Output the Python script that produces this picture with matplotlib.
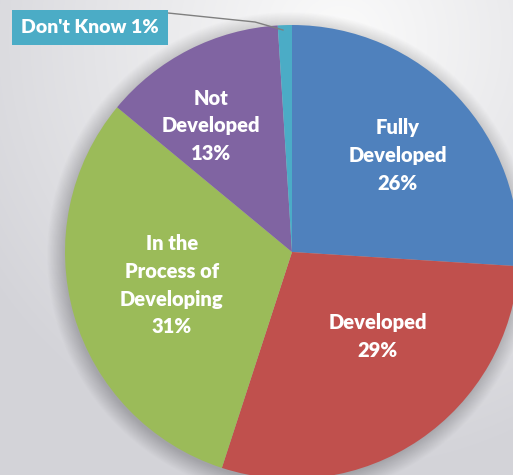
import numpy as np
import matplotlib
matplotlib.use("Agg")
import matplotlib.pyplot as plt
from matplotlib.patches import Rectangle, Circle

labels = ["Fully\nDeveloped\n26%", "Developed\n29%", "In the\nProcess of\nDeveloping\n31%",
          "Not\nDeveloped\n13%", "Don't Know 1%"]
values = [26, 29, 31, 13, 1]
colors = ["#4F81BD", "#C0504D", "#9BBB59", "#8064A2", "#4BACC6"]
# label placement: (angle in degrees, radius fraction)
label_pos = [(42.5, 0.63), (-44.7, 0.53), (-164.6, 0.55), (122.7, 0.66)]

W, H = 513, 475
fig = plt.figure(figsize=(W / 100, H / 100), dpi=100)
ax = fig.add_axes([0, 0, 1, 1])

# background gradient
yy, xx = np.mgrid[0:H, 0:W]
d = np.sqrt(((xx - 340) / 420.0) ** 2 + ((yy - 40) / 430.0) ** 2)
d = np.clip(d, 0, 1)
top = np.array([0.985, 0.985, 0.985])
bot = np.array([0.83, 0.83, 0.85])
img = top[None, None, :] * (1 - d[..., None]) + bot[None, None, :] * d[..., None]
ax.imshow(img, extent=(0, W, 0, H), origin="upper", zorder=0, aspect="auto")

cx, cy, R = 292, H - 252, 227

# soft shadow
for i in range(24):
    ax.add_patch(Circle((cx - 2, cy - 3), R + 16 - i * 0.75, color="black", alpha=0.006,
                        lw=0, zorder=1))

wedges, _ = ax.pie(values, colors=colors, startangle=90, counterclock=False,
                   center=(cx, cy), radius=R, labels=None,
                   wedgeprops=dict(linewidth=0))
for w in wedges:
    w.set_zorder(2)
ax.set_xlim(0, W)
ax.set_ylim(0, H)
ax.set_aspect("equal")
ax.axis("off")

for lab, (ang, fr) in zip(labels[:4], label_pos):
    a = np.deg2rad(ang)
    ax.text(cx + fr * R * np.cos(a), cy + fr * R * np.sin(a), lab, ha="center", va="center",
            color="white", fontsize=14.5, fontweight="heavy", family="Lato",
            linespacing=1.55, zorder=3)

# Don't Know box and leader line
ax.plot([168, 255, 283], [H - 13, H - 22, H - 30], color="#7f7f7f", lw=1, zorder=3)
ax.add_patch(Rectangle((12, H - 45), 156, 35, color=colors[4], lw=0, zorder=3))
ax.text(90, H - 27.5, labels[4], ha="center", va="center", color="white",
        fontsize=14, fontweight="heavy", family="Lato", zorder=4)

fig.savefig("out.png", dpi=100)
